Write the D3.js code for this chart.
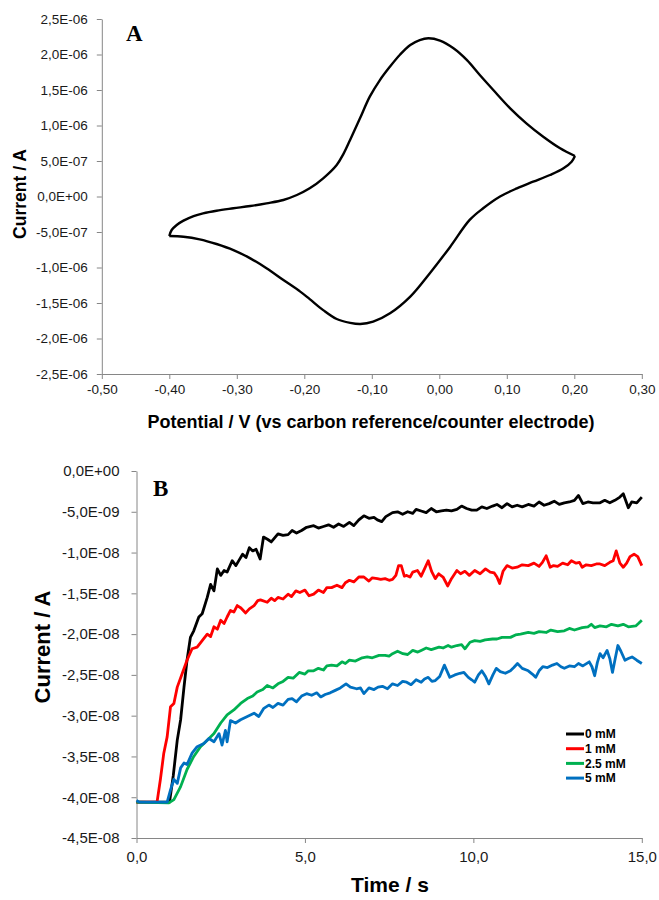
<!DOCTYPE html>
<html><head><meta charset="utf-8">
<script src="https://cdn.jsdelivr.net/npm/d3@7"></script>
<style>
body{margin:0;background:#fff}
svg{display:block}
</style>
</head><body>
<svg id="c" width="659" height="900"></svg>
<script>
// ---------- Panel A: cyclic voltammogram (potential in V, current in µA) ----------
const cvForwardPotential = [-0.400,-0.3965,-0.389,-0.379,-0.364,-0.350,-0.330,-0.305,-0.280,-0.256,-0.231,-0.211,-0.192,-0.172,-0.152,-0.142,-0.132,-0.118,-0.103,-0.088,-0.073,-0.058,-0.043,-0.029,-0.016,0.001,0.021,0.041,0.060,0.080,0.105,0.129,0.154,0.179,0.201];
const cvForwardCurrent   = [-0.556,-0.472,-0.401,-0.340,-0.275,-0.237,-0.200,-0.166,-0.134,-0.096,-0.049,0.021,0.115,0.256,0.444,0.600,0.800,1.090,1.406,1.640,1.830,2.000,2.134,2.204,2.228,2.195,2.087,1.920,1.711,1.500,1.242,1.031,0.842,0.679,0.570];
const cvReversePotential = [0.201,0.196,0.184,0.164,0.139,0.115,0.090,0.065,0.045,0.016,-0.014,-0.043,-0.073,-0.098,-0.117,-0.132,-0.152,-0.172,-0.192,-0.206,-0.231,-0.256,-0.280,-0.305,-0.330,-0.355,-0.379,-0.400];
const cvReverseCurrent   = [0.570,0.490,0.397,0.303,0.208,0.115,0.000,-0.166,-0.330,-0.710,-1.080,-1.410,-1.645,-1.763,-1.796,-1.780,-1.725,-1.600,-1.445,-1.340,-1.176,-1.010,-0.871,-0.754,-0.669,-0.603,-0.566,-0.556];

const aXTicks = [-0.5,-0.4,-0.3,-0.2,-0.1,0,0.1,0.2,0.3];
const aXTickLabels = ["-0,50","-0,40","-0,30","-0,20","-0,10","0,00","0,10","0,20","0,30"];
const aYTicks = [2.5,2,1.5,1,0.5,0,-0.5,-1,-1.5,-2,-2.5]; // µA
const aYTickLabels = ["2,5E-06","2,0E-06","1,5E-06","1,0E-06","5,0E-07","0,0E+00","-5,0E-07","-1,0E-06","-1,5E-06","-2,0E-06","-2,5E-06"];

// ---------- Panel B: chronoamperometry (time in s, current in nA) ----------
const seriesNames = ["0 mM","1 mM","2.5 mM","5 mM"];
const seriesColors = ["#000000","#ff0000","#00b050","#0070c0"];

const time0 = [0,0.5,0.98,1.09,1.21,1.31,1.41,1.50,1.60,1.70,1.85,1.95,2.10,2.20,2.30,2.40,2.50,2.60,2.69,2.84,2.95,3.05,3.15,3.25,3.35,3.45,3.55,3.67,3.77,3.90,4.0,4.1,4.2,4.35,4.5,4.62,4.75,4.9,5.05,5.26,5.4,5.55,5.7,5.85,6.0,6.15,6.32,6.45,6.6,6.75,6.9,7.05,7.15,7.28,7.4,7.6,7.75,7.9,8.05,8.2,8.3,8.45,8.6,8.75,8.9,9.05,9.2,9.35,9.51,9.65,9.8,9.95,10.1,10.25,10.4,10.57,10.7,10.85,11.0,11.15,11.3,11.45,11.63,11.8,11.95,12.1,12.25,12.4,12.55,12.7,12.85,13.0,13.12,13.25,13.4,13.55,13.76,13.9,14.05,14.2,14.35,14.45,14.6,14.7,14.85,15.0];
const current0 = [-40.6,-40.6,-40.6,-37.4,-33.0,-30.5,-26.5,-23.2,-20.4,-19.6,-17.9,-17.5,-15.5,-13.9,-14.7,-12.0,-12.8,-12.2,-12.4,-11.0,-11.6,-10.9,-10.2,-10.6,-9.4,-9.8,-9.6,-10.8,-8.1,-8.4,-8.7,-8.2,-7.7,-7.9,-7.8,-7.3,-7.6,-7.3,-6.9,-6.7,-7.0,-6.8,-6.6,-6.9,-6.5,-6.8,-6.3,-6.7,-6.0,-5.5,-5.8,-5.7,-6.0,-6.2,-5.6,-5.1,-5.0,-5.3,-5.0,-5.2,-4.7,-4.9,-5.1,-4.6,-5.0,-4.9,-4.8,-4.9,-4.7,-4.3,-4.6,-4.8,-4.8,-4.4,-4.6,-4.3,-4.1,-4.5,-4.0,-4.4,-4.2,-4.4,-4.1,-4.3,-3.8,-4.2,-4.0,-3.7,-4.1,-3.9,-3.8,-3.6,-3.0,-4.0,-3.8,-3.9,-3.9,-3.6,-3.9,-3.6,-3.2,-2.8,-4.5,-3.8,-3.9,-3.2];

const time1 = [0,0.61,0.71,0.81,0.91,1.01,1.11,1.21,1.36,1.50,1.65,1.80,1.95,2.10,2.20,2.30,2.40,2.50,2.60,2.69,2.79,2.89,2.99,3.1,3.24,3.35,3.49,3.6,3.68,3.88,4.0,4.1,4.2,4.35,4.5,4.6,4.73,4.85,5.0,5.12,5.26,5.4,5.55,5.65,5.79,5.95,6.1,6.2,6.32,6.45,6.6,6.75,6.9,7.0,7.15,7.25,7.38,7.5,7.6,7.7,7.78,7.86,7.95,8.02,8.12,8.2,8.34,8.45,8.55,8.66,8.76,8.87,8.97,9.1,9.24,9.35,9.51,9.62,9.75,9.88,10.04,10.2,10.36,10.5,10.62,10.7,10.78,10.88,11.0,11.15,11.3,11.45,11.63,11.8,11.95,12.05,12.16,12.28,12.38,12.5,12.65,12.8,12.91,13.05,13.15,13.23,13.35,13.5,13.65,13.76,13.9,14.05,14.15,14.24,14.35,14.45,14.55,14.65,14.77,14.88,15.0];
const current1 = [-40.6,-40.6,-37.8,-34.6,-32.6,-28.9,-28.5,-26.5,-24.8,-23.2,-21.8,-21.6,-20.8,-20.0,-20.3,-19.1,-19.4,-18.3,-18.7,-17.9,-17.1,-17.3,-16.5,-16.8,-17.4,-16.9,-16.5,-15.9,-15.8,-16.1,-15.6,-15.9,-15.5,-15.7,-15.1,-15.4,-14.7,-14.9,-14.6,-15.3,-15.1,-14.6,-14.9,-14.3,-14.3,-14.0,-14.3,-13.7,-13.4,-13.6,-13.0,-13.0,-13.5,-13.1,-13.2,-13.3,-13.2,-13.4,-13.3,-12.8,-11.6,-11.6,-12.9,-12.8,-13.0,-12.4,-12.2,-12.9,-12.0,-11.0,-12.3,-13.2,-12.6,-13.0,-14.1,-13.2,-12.2,-12.6,-12.3,-12.8,-12.2,-12.6,-12.0,-12.4,-12.5,-13.0,-13.8,-12.3,-11.6,-11.9,-11.8,-11.5,-11.6,-11.3,-11.7,-11.2,-10.4,-11.8,-11.6,-11.7,-11.3,-11.5,-11.0,-11.3,-11.2,-11.8,-11.5,-11.6,-11.4,-11.4,-11.6,-11.2,-11.0,-9.8,-11.3,-11.8,-11.3,-10.5,-10.2,-10.5,-11.6];

const time25 = [0,0.96,1.11,1.31,1.50,1.70,1.90,2.10,2.30,2.50,2.69,2.89,3.09,3.29,3.45,3.58,3.75,3.88,4.05,4.2,4.35,4.5,4.65,4.83,5.0,5.1,5.26,5.4,5.55,5.65,5.79,5.95,6.1,6.2,6.32,6.5,6.7,6.85,7.0,7.2,7.38,7.5,7.6,7.75,7.91,8.05,8.2,8.35,8.45,8.6,8.75,8.98,9.1,9.25,9.35,9.51,9.65,9.75,9.9,10.04,10.2,10.35,10.57,10.7,10.85,11.1,11.25,11.4,11.63,11.8,11.95,12.16,12.3,12.5,12.7,12.85,13.0,13.23,13.4,13.5,13.6,13.76,13.95,14.1,14.29,14.45,14.6,14.82,14.9,15.0];
const current25 = [-40.6,-40.7,-40.3,-38.7,-36.6,-35.0,-33.8,-33.0,-32.2,-30.9,-29.9,-29.3,-28.5,-27.9,-27.6,-27.1,-26.8,-26.3,-26.6,-26.1,-25.8,-25.3,-25.4,-24.7,-24.9,-24.5,-24.5,-24.2,-24.4,-23.9,-23.8,-23.9,-23.4,-23.6,-23.2,-23.3,-22.9,-22.8,-22.9,-22.6,-22.6,-22.7,-22.4,-22.1,-22.4,-22.5,-22.0,-22.2,-22.0,-21.7,-21.9,-21.6,-21.7,-21.4,-21.6,-21.4,-21.3,-21.8,-21.0,-20.8,-20.9,-20.7,-20.6,-20.6,-20.4,-20.4,-20.1,-20.0,-19.8,-19.9,-19.7,-19.8,-19.5,-19.7,-19.6,-19.3,-19.5,-19.2,-19.1,-18.8,-19.2,-19.0,-19.1,-18.8,-19.0,-18.8,-19.1,-19.0,-18.7,-18.3];

const time5 = [0,0.08,0.91,1.01,1.11,1.21,1.31,1.41,1.50,1.65,1.80,2.00,2.15,2.30,2.45,2.54,2.64,2.69,2.79,2.94,3.09,3.29,3.49,3.63,3.78,3.93,4.05,4.2,4.35,4.5,4.62,4.75,4.9,5.05,5.2,5.35,5.47,5.6,5.75,5.9,6.05,6.22,6.35,6.53,6.65,6.75,6.9,7.05,7.17,7.3,7.45,7.6,7.75,7.9,8.02,8.15,8.3,8.45,8.55,8.66,8.77,8.87,9.0,9.14,9.3,9.45,9.6,9.72,9.85,9.95,10.04,10.15,10.25,10.36,10.46,10.58,10.68,10.8,10.95,11.1,11.2,11.31,11.45,11.63,11.75,11.85,11.95,12.06,12.2,12.35,12.48,12.6,12.7,12.85,13.0,13.12,13.25,13.44,13.52,13.6,13.68,13.76,13.85,13.97,14.05,14.13,14.22,14.29,14.38,14.5,14.6,14.71,14.85,15.0];
const current5 = [-40.4,-40.6,-40.6,-39.1,-37.8,-38.3,-36.4,-35.8,-36.0,-34.6,-33.8,-33.4,-32.8,-33.2,-32.2,-33.6,-31.8,-33.2,-30.6,-30.9,-30.5,-30.1,-29.7,-30.1,-29.1,-28.7,-29.0,-28.5,-28.7,-28.0,-27.9,-28.3,-27.6,-27.3,-27.5,-27.2,-27.7,-27.4,-27.2,-26.9,-26.6,-26.1,-26.5,-26.7,-26.6,-27.3,-26.6,-26.8,-26.5,-26.4,-26.7,-26.1,-26.3,-25.8,-25.9,-26.2,-25.6,-25.9,-25.5,-25.3,-25.8,-25.7,-25.2,-23.8,-25.3,-25.0,-24.8,-24.7,-25.3,-25.6,-25.9,-25.0,-24.5,-25.2,-26.1,-25.0,-24.2,-24.6,-24.8,-24.5,-24.1,-23.6,-24.2,-24.5,-24.9,-25.3,-24.5,-24.0,-24.1,-23.8,-23.6,-24.0,-24.2,-23.9,-24.0,-23.6,-23.9,-23.4,-24.0,-25.1,-23.5,-22.4,-22.9,-22.0,-23.0,-24.7,-22.8,-21.4,-22.1,-23.2,-23.0,-22.8,-23.2,-23.6];

const bXTicks = [0,5,10,15];
const bXTickLabels = ["0,0","5,0","10,0","15,0"];
const bYTicks = [0,-5,-10,-15,-20,-25,-30,-35,-40,-45]; // nA
const bYTickLabels = ["0,0E+00","-5,0E-09","-1,0E-08","-1,5E-08","-2,0E-08","-2,5E-08","-3,0E-08","-3,5E-08","-4,0E-08","-4,5E-08"];

// ---------- drawing ----------
const FONT = "Arial, 'Liberation Sans', sans-serif";
const SERIF = "'Times New Roman', 'Liberation Serif', serif";
const AXIS = "#868686";
const svg = d3.select("#c");

function styleAxis(g, size){
  g.attr("font-family", FONT).attr("font-size", size);
  g.select(".domain").attr("stroke", AXIS);
  g.selectAll(".tick line").attr("stroke", AXIS);
  g.selectAll(".tick text").attr("fill", "#1a1a1a");
}

// Panel A scales
const ax = d3.scaleLinear().domain([-0.5, 0.3]).range([101.8, 641.8]);
const ay = d3.scaleLinear().domain([-2.5, 2.5]).range([374, 19]);

svg.append("g").attr("transform","translate(101.8,0)")
  .call(d3.axisLeft(ay).tickValues(aYTicks).tickFormat((d,i)=>aYTickLabels[i]).tickSize(5).tickSizeOuter(0).tickPadding(9))
  .call(g=>styleAxis(g,13.5));
svg.append("g").attr("transform","translate(0,374)")
  .call(d3.axisBottom(ax).tickValues(aXTicks).tickFormat((d,i)=>aXTickLabels[i]).tickSize(5).tickSizeOuter(0).tickPadding(5))
  .call(g=>styleAxis(g,13.5));

const cvLine = d3.line().x(d=>ax(d[0])).y(d=>ay(d[1])).curve(d3.curveCatmullRom.alpha(0.5));
svg.append("path").datum(d3.zip(cvForwardPotential, cvForwardCurrent))
  .attr("d", cvLine).attr("fill","none").attr("stroke","#000").attr("stroke-width",2.4);
svg.append("path").datum(d3.zip(cvReversePotential, cvReverseCurrent))
  .attr("d", cvLine).attr("fill","none").attr("stroke","#000").attr("stroke-width",2.4);

svg.append("text").attr("x",126).attr("y",41).attr("font-family",SERIF).attr("font-weight","bold").attr("font-size",23).text("A");
svg.append("text").attr("transform","translate(26,194) rotate(-90)").attr("text-anchor","middle")
  .attr("font-family",FONT).attr("font-weight","bold").attr("font-size",17.5).text("Current / A");
svg.append("text").attr("x",371).attr("y",428).attr("text-anchor","middle")
  .attr("font-family",FONT).attr("font-weight","bold").attr("font-size",18).text("Potential / V (vs carbon reference/counter electrode)");

// Panel B scales
const bx = d3.scaleLinear().domain([0, 15]).range([136.5, 641.8]);
const by = d3.scaleLinear().domain([-45, 0]).range([838, 471]);

svg.append("g").attr("transform","translate(136.5,0)")
  .call(d3.axisLeft(by).tickValues(bYTicks).tickFormat((d,i)=>bYTickLabels[i]).tickSize(5).tickSizeOuter(0).tickPadding(12))
  .call(g=>styleAxis(g,15));
svg.append("g").attr("transform","translate(0,838)")
  .call(d3.axisBottom(bx).tickValues(bXTicks).tickFormat((d,i)=>bXTickLabels[i]).tickSize(5).tickSizeOuter(0).tickPadding(8))
  .call(g=>styleAxis(g,15));

const series = [[time0,current0],[time1,current1],[time25,current25],[time5,current5]];
const bLine = d3.line().x(d=>bx(d[0])).y(d=>by(d[1])).curve(d3.curveLinear);
series.forEach((s,i)=>{
  svg.append("path").datum(d3.zip(s[0], s[1]))
    .attr("d", bLine).attr("fill","none").attr("stroke", seriesColors[i])
    .attr("stroke-width", 2.8).attr("stroke-linejoin","round");
});

svg.append("text").attr("x",153).attr("y",496).attr("font-family",SERIF).attr("font-weight","bold").attr("font-size",23).text("B");
svg.append("text").attr("transform","translate(50,647) rotate(-90)").attr("text-anchor","middle")
  .attr("font-family",FONT).attr("font-weight","bold").attr("font-size",22).text("Current / A");
svg.append("text").attr("x",390).attr("y",892).attr("text-anchor","middle")
  .attr("font-family",FONT).attr("font-weight","bold").attr("font-size",21).text("Time / s");

// legend
const leg = svg.append("g");
seriesNames.forEach((n,i)=>{
  const y = 734 + i*14.7;
  leg.append("line").attr("x1",566).attr("x2",584).attr("y1",y).attr("y2",y)
    .attr("stroke",seriesColors[i]).attr("stroke-width",3);
  leg.append("text").attr("x",585).attr("y",y).attr("dy","0.36em")
    .attr("font-family",FONT).attr("font-weight","bold").attr("font-size",12).text(n);
});
</script>
</body></html>
